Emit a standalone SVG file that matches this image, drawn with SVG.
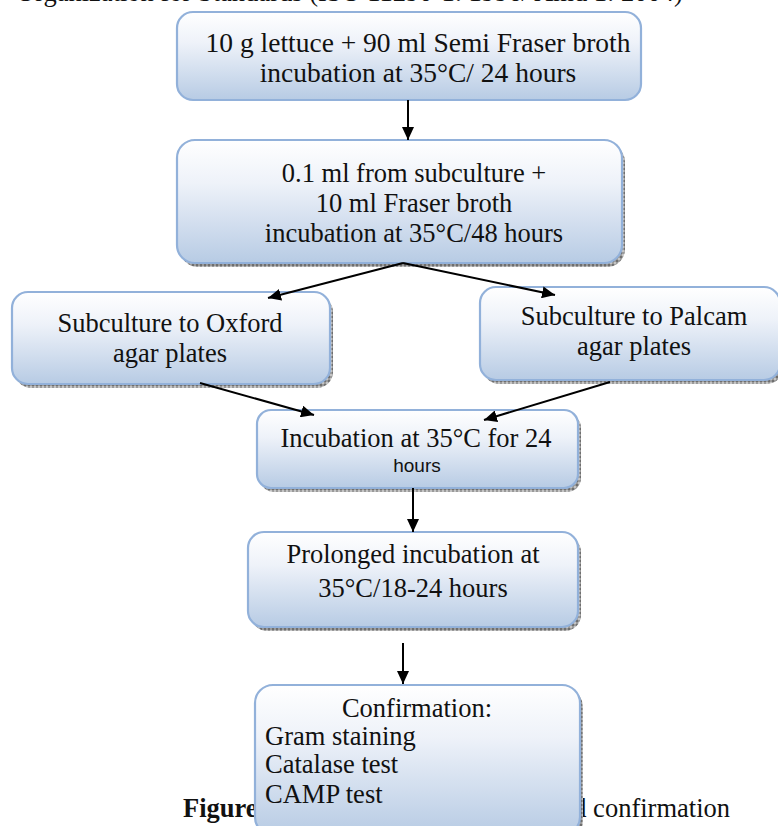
<svg xmlns="http://www.w3.org/2000/svg" width="778" height="826" viewBox="0 0 778 826">
<style>
.box{stroke:#92b1da;stroke-width:2.2;fill:url(#g)}
.sh{fill:url(#hatch)}
.t{font-family:"Liberation Serif","Times New Roman",serif;font-size:26.5px;fill:#111}
.c{text-anchor:middle}
.s{font-family:"Liberation Sans",Arial,sans-serif;font-size:19px;fill:#111}
.ln{stroke:#000;stroke-width:2;fill:none;marker-end:url(#ah)}
</style>
<defs>
<linearGradient id="g" x1="0" y1="0" x2="0" y2="1">
<stop offset="0" stop-color="#ffffff"/>
<stop offset="0.35" stop-color="#eef2f9"/>
<stop offset="1" stop-color="#b7cbe4"/>
</linearGradient>
<pattern id="hatch" width="4" height="4" patternUnits="userSpaceOnUse">
<rect width="4" height="4" fill="#9a9a9a"/>
<rect width="2" height="2" fill="#6f6f6f"/>
<rect x="2" y="2" width="2" height="2" fill="#c4c4c4"/>
</pattern>
<marker id="ah" markerUnits="userSpaceOnUse" markerWidth="14" markerHeight="12" refX="13" refY="6" orient="auto">
<path d="M0,0 L13,6 L0,12 z" fill="#000"/>
</marker>
</defs>

<text class="t" x="16" y="1">Organization for Standards (ISO 11290-1: 1996/ Amd 1: 2004)</text>

<text class="t" x="183" y="817" font-weight="bold">Figure</text>
<text class="t" x="730" y="817" text-anchor="end">and confirmation</text>

<g id="n1">
<rect class="box" x="177" y="12" width="464" height="88" rx="16"/>
<text class="t c" x="418" y="52" style="font-size:27.5px">10 g lettuce + 90 ml Semi Fraser broth</text>
<text class="t c" x="418" y="82" style="font-size:27.5px">incubation at 35°C/ 24 hours</text>
</g>

<g id="n2">
<rect class="sh" x="180" y="144" width="445" height="123" rx="18"/>
<rect class="box" x="177" y="140" width="445" height="123" rx="18"/>
<text class="t c" x="414" y="182">0.1 ml from subculture +</text>
<text class="t c" x="414" y="212">10 ml Fraser broth</text>
<text class="t c" x="414" y="242">incubation at 35°C/48 hours</text>
</g>

<g id="n3">
<rect class="sh" x="15" y="296" width="318" height="92" rx="16"/>
<rect class="box" x="12" y="292" width="318" height="92" rx="16"/>
<text class="t c" x="170" y="332">Subculture to Oxford</text>
<text class="t c" x="170" y="362">agar plates</text>
</g>

<g id="n4">
<rect class="sh" x="483" y="291" width="300" height="93" rx="16"/>
<rect class="box" x="480" y="287" width="300" height="93" rx="16"/>
<text class="t c" x="634" y="325">Subculture to Palcam</text>
<text class="t c" x="634" y="355">agar plates</text>
</g>

<g id="n5">
<rect class="sh" x="260" y="414" width="321" height="78" rx="14"/>
<rect class="box" x="257" y="410" width="321" height="78" rx="14"/>
<text class="t c" x="416" y="447">Incubation at 35°C for 24</text>
<text class="s c" x="417" y="472">hours</text>
</g>

<g id="n6">
<rect class="sh" x="251" y="536" width="330" height="95" rx="16"/>
<rect class="box" x="248" y="532" width="330" height="95" rx="16"/>
<text class="t c" x="413" y="563">Prolonged incubation at</text>
<text class="t c" x="413" y="597">35°C/18-24 hours</text>
</g>

<g id="n7">
<rect class="sh" x="258" y="689" width="325" height="150" rx="18"/>
<rect class="box" x="255" y="685" width="325" height="150" rx="18"/>
<text class="t c" x="417" y="717">Confirmation:</text>
<text class="t" x="265" y="745">Gram staining</text>
<text class="t" x="265" y="773">Catalase test</text>
<text class="t" x="265" y="803">CAMP test</text>
</g>

<g id="connectors">
<line class="ln" x1="408" y1="100" x2="408" y2="140"/>
<line class="ln" x1="403" y1="263" x2="268" y2="298"/>
<line class="ln" x1="403" y1="263" x2="555" y2="295"/>
<line class="ln" x1="200" y1="383" x2="314" y2="415"/>
<line class="ln" x1="610" y1="382" x2="484" y2="420"/>
<line class="ln" x1="413" y1="488" x2="413" y2="532"/>
<line class="ln" x1="403" y1="643" x2="403" y2="684"/>
</g>
</svg>
